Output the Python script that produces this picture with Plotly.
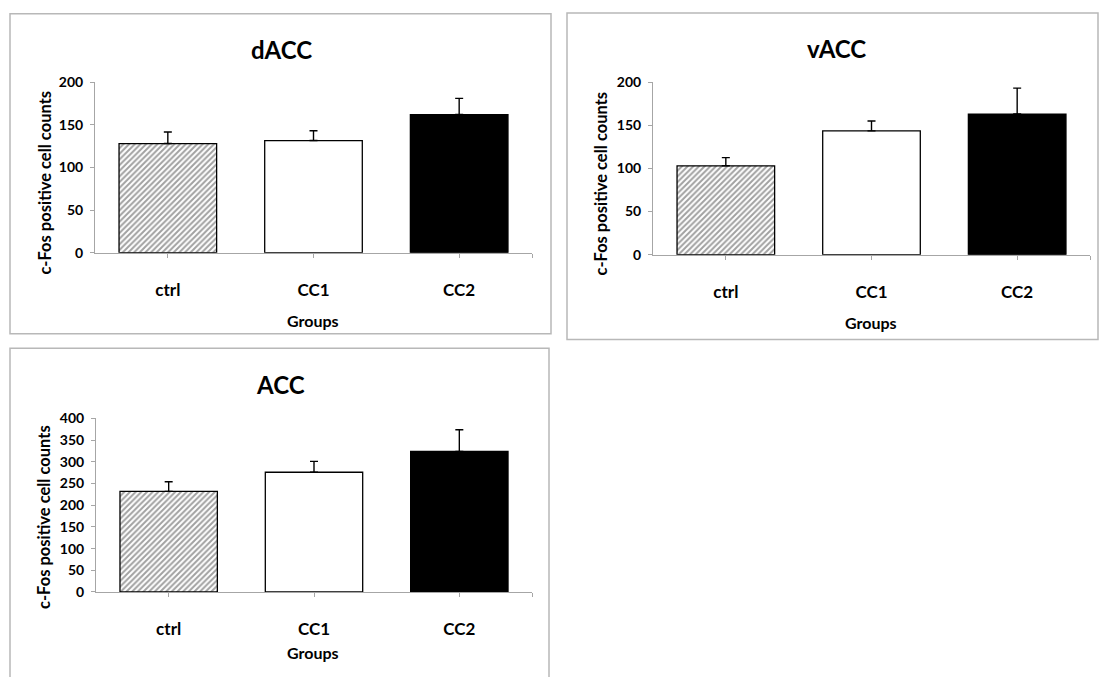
import plotly.graph_objects as go

groups = ["ctrl", "CC1", "CC2"]
dacc_mean = [128, 131.5, 162]
dacc_sem = [13.5, 11.5, 19]
vacc_mean = [103, 143.5, 163]
vacc_sem = [9.5, 11.5, 30]
acc_mean = [232, 276, 324]
acc_sem = [22, 25, 50]
titles = ["dACC", "vACC", "ACC"]
y_title = "c-Fos positive cell counts"
x_title = "Groups"

W, H = 1099, 677
FONT = "Lato"
AX_GRAY = "#a6a6a6"
BOX_GRAY = "#b8b8b8"

def px(x):
    return x / W

def py(y):
    return 1 - y / H

fig = go.Figure()

panels = [
    dict(mean=dacc_mean, sem=dacc_sem, title=titles[0], x0=95, x1=532, yz=250, yt=75, ymax=200,
         box=(10, 5, 551, 333), tx=281, ty=42, ytx=45, yty=178, gx=313, gy=320),
    dict(mean=vacc_mean, sem=vacc_sem, title=titles[1], x0=653, x1=1090, yz=252, yt=75, ymax=200,
         box=(567, 4, 1098, 339), tx=836, ty=41, ytx=601, yty=179, gx=871, gy=322),
    dict(mean=acc_mean, sem=acc_sem, title=titles[2], x0=96, x1=532, yz=598, yt=420, ymax=400,
         box=(10, 348, 549, 690), tx=280, ty=385, ytx=44, yty=521, gx=313, gy=660),
]

xs = list(range(len(groups)))
shapes = []
annotations = []
for i, p in enumerate(panels):
    n = "" if i == 0 else str(i + 1)
    fig.add_trace(go.Bar(
        x=xs, y=p["mean"],
        marker=dict(
            color=["white", "white", "black"],
            line=dict(color="black", width=1.3),
            pattern=dict(shape=["/", "", ""], fgcolor="black", size=4, solidity=0.5),
        ),
        error_y=dict(type="data", symmetric=False, array=p["sem"], arrayminus=[0] * len(groups),
                     color="black", thickness=1.4, width=4),
        xaxis="x" + n, yaxis="y" + n, showlegend=False,
    ))
    fig.update_layout(**{
        "xaxis" + n: dict(
            domain=[px(p["x0"]), px(p["x1"])], anchor="y" + n,
            range=[-0.5, len(groups) - 0.5],
            tickvals=xs + [len(groups) - 0.5], ticktext=groups + [""],
            showline=True, linecolor=AX_GRAY, linewidth=1,
            ticks="outside", ticklen=4, tickcolor=AX_GRAY, tickwidth=1,
            ticklabelstandoff=18,
            tickfont=dict(family=FONT, size=17, color="black", weight="bold"),
            showgrid=False, zeroline=False, fixedrange=True,
        ),
        "yaxis" + n: dict(
            domain=[py(p["yz"]), py(p["yt"])], anchor="x" + n,
            range=[0, p["ymax"]], tickvals=list(range(0, p["ymax"] + 1, 50)),
            showline=True, linecolor=AX_GRAY, linewidth=1,
            ticks="outside", ticklen=4, tickcolor=AX_GRAY, tickwidth=1,
            ticklabelstandoff=4,
            tickfont=dict(family=FONT, size=14, color="black", weight="bold"),
            showgrid=False, zeroline=False, fixedrange=True,
        ),
    })
    bx0, by0, bx1, by1 = p["box"]
    shapes.append(dict(type="rect", xref="paper", yref="paper",
                       x0=px(bx0), x1=px(bx1), y0=py(by1), y1=py(by0),
                       line=dict(color=BOX_GRAY, width=1.5), layer="below"))
    annotations.append(dict(text=p["title"], xref="paper", yref="paper", x=px(p["tx"]), y=py(p["ty"]),
                            showarrow=False, xanchor="center", yanchor="middle",
                            font=dict(family=FONT, size=24, color="black", weight="bold")))
    annotations.append(dict(text=y_title, xref="paper", yref="paper", x=px(p["ytx"]), y=py(p["yty"]),
                            showarrow=False, textangle=-90, xanchor="center", yanchor="middle",
                            font=dict(family=FONT, size=16.5, color="black", weight="bold")))
    annotations.append(dict(text=x_title, xref="paper", yref="paper", x=px(p["gx"]), y=py(p["gy"]),
                            showarrow=False, xanchor="center", yanchor="middle",
                            font=dict(family=FONT, size=16, color="black", weight="bold")))

fig.update_layout(
    width=W, height=H, margin=dict(l=0, r=0, t=0, b=0),
    paper_bgcolor="white", plot_bgcolor="rgba(0,0,0,0)",
    bargap=0.33, shapes=shapes, annotations=annotations,
    font=dict(family=FONT),
)

fig.write_html("out.html", config={"displayModeBar": False},
               post_script="document.body.style.margin='0px';document.body.style.overflow='hidden';")
